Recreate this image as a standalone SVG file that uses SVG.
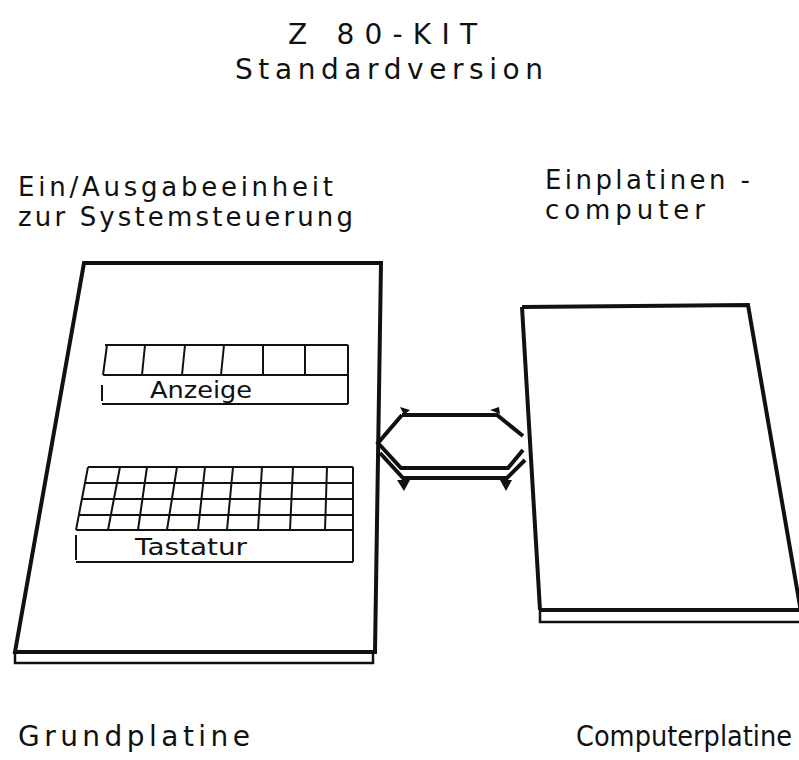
<svg xmlns="http://www.w3.org/2000/svg" width="799" height="760" viewBox="0 0 799 760">
  <style>
    .lbl { font-family: "DejaVu Sans", "Liberation Sans", sans-serif; fill: #111; }
    .big { font-size: 28px; }
    .mid { font-size: 26px; }
    .foot { font-size: 28px; }
    .narrow { font-stretch: condensed; }
    .small { font-size: 23px; }
    .board { fill: none; stroke: #111; stroke-width: 4; stroke-linejoin: miter; }
    .edge { fill: none; stroke: #111; stroke-width: 2.5; }
    .grid { fill: none; stroke: #111; stroke-width: 2; }
    .bus { fill: none; stroke: #111; stroke-width: 4; stroke-linejoin: miter; }
  </style>
  <rect width="799" height="760" fill="#ffffff"/>

  <!-- title -->
  <g id="title">
    <text class="lbl big" x="288" y="44" textLength="189" lengthAdjust="spacing">Z 80-KIT</text>
    <text class="lbl big" x="235" y="79" textLength="308" lengthAdjust="spacing">Standardversion</text>
  </g>

  <!-- base board with display and keyboard -->
  <g id="grundplatine">
    <text class="lbl mid" x="18" y="196" textLength="315" lengthAdjust="spacing">Ein/Ausgabeeinheit</text>
    <text class="lbl mid" x="18" y="226" textLength="335" lengthAdjust="spacing">zur Systemsteuerung</text>
    <path class="board" d="M84,263 L381,263 L375,652 L15,652 Z"/>
    <path class="edge" d="M15,652 L15,663 L373,663 L373,652"/>
    <text class="lbl foot" x="18" y="746" textLength="232" lengthAdjust="spacing">Grundplatine</text>
  </g>

  <g id="anzeige">
    <path class="grid" d="M105,345 L348,345 M103,375 L348,375 M102,404 L348,404 M348,345 L348,404 M107,345 L103,375 M145,345 L142,375 M185,345 L182,375 M224,345 L221,375 M263,345 L263,375 M305,345 L305,375 M102,385 L102,401"/>
    <text class="lbl small" x="150" y="398" textLength="102" lengthAdjust="spacingAndGlyphs">Anzeige</text>
  </g>

  <g id="tastatur">
    <path class="grid" d="M88,467 L353,467 M85,483 L353,483 M82,499 L353,499 M79,515 L353,515 M76,530 L353,530 M76,562 L353,562 M353,467 L353,562 M76,535 L76,560
      M88,467 L76,530 M120,467 L108,530 M147,467 L138,530 M177,467 L167,530 M205,467 L198,530 M233,467 L227,530 M262,467 L258,530 M293,467 L290,530 M327,467 L325,530"/>
    <text class="lbl small" x="135" y="555" textLength="112" lengthAdjust="spacingAndGlyphs">Tastatur</text>
  </g>

  <!-- single-board computer -->
  <g id="computerplatine">
    <text class="lbl mid" x="545" y="189" textLength="205" lengthAdjust="spacing">Einplatinen -</text>
    <text class="lbl mid" x="545" y="219" textLength="160" lengthAdjust="spacing">computer</text>
    <path class="board" d="M522,307 L748,305 L801,612 M540,610 L522,307 M540,610 L801,610"/>
    <path class="edge" d="M540,610 L540,622 L799,622"/>
    <text class="lbl foot narrow" x="576" y="746" textLength="216" lengthAdjust="spacingAndGlyphs">Computerplatine</text>
  </g>

  <!-- bus between the two boards -->
  <g id="connectors">
    <path class="bus" d="M402,415 L378,443 L401,468 L508,468 L523,450"/>
    <path class="bus" d="M402,415 L497,415 L523,436"/>
    <path class="bus" d="M380,453 L403,478 L507,478 L525,460"/>
    <path d="M397,480 L410,480 L404,491 Z" fill="#111"/>
    <path d="M500,480 L512,480 L506,491 Z" fill="#111"/>
    <path d="M400,407 L410,410 L404,415 Z" fill="#111"/>
    <path d="M490,410 L499,407 L500,414 Z" fill="#111"/>
  </g>
</svg>
